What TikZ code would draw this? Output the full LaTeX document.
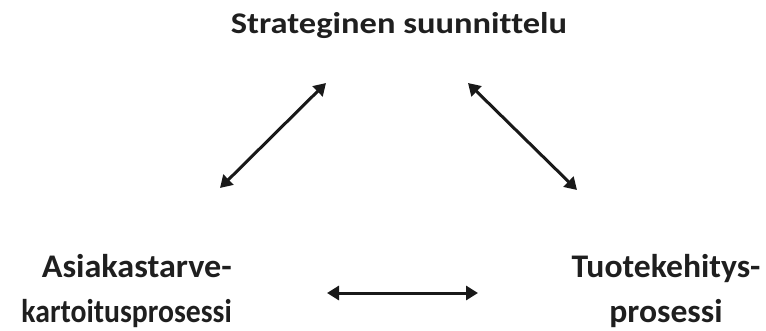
\documentclass[tikz,border=0pt]{standalone}
\usepackage{fontspec}
\setmainfont{Carlito}[Ligatures=NoCommon]
\usetikzlibrary{arrows.meta}
\begin{document}
\begin{tikzpicture}[x=1pt,y=-1pt,
  label/.style={text=black!88, inner sep=0pt},
  toplabel/.style={label, anchor=base, font=\fontsize{30}{40}\selectfont\bfseries, xscale=1.15},
  sidelabel/.style={label, font=\fontsize{33}{45}\selectfont\bfseries},
  link/.style={line width=3pt, black!90, {Triangle[length=12pt,width=14pt]}-{Triangle[length=12pt,width=14pt]}}]
\useasboundingbox (0,0) rectangle (766,331);
% the three processes
\node[toplabel] (plan) at (399,34) {Strateginen suunnittelu};
\node[sidelabel, align=right, anchor=base east] (need) at (232,323)
  {\scalebox{1.035}[1]{Asiakastarve-}\\\scalebox{0.9}[1]{kartoitusprosessi}};
\node[sidelabel, align=center, anchor=base] (prod) at (666,323)
  {\scalebox{1.02}[1]{Tuotekehitys-}\\\scalebox{1.02}[1]{prosessi}};
% arrow end points
\coordinate (a1) at (220,188);
\coordinate (a2) at (326,83);
\coordinate (b1) at (468,83);
\coordinate (b2) at (577,190);
\coordinate (c1) at (327,293);
\coordinate (c2) at (478,293);
% two-way links
\draw[link] (a1) -- (a2);
\draw[link] (b1) -- (b2);
\draw[link] (c1) -- (c2);
\end{tikzpicture}
\end{document}
